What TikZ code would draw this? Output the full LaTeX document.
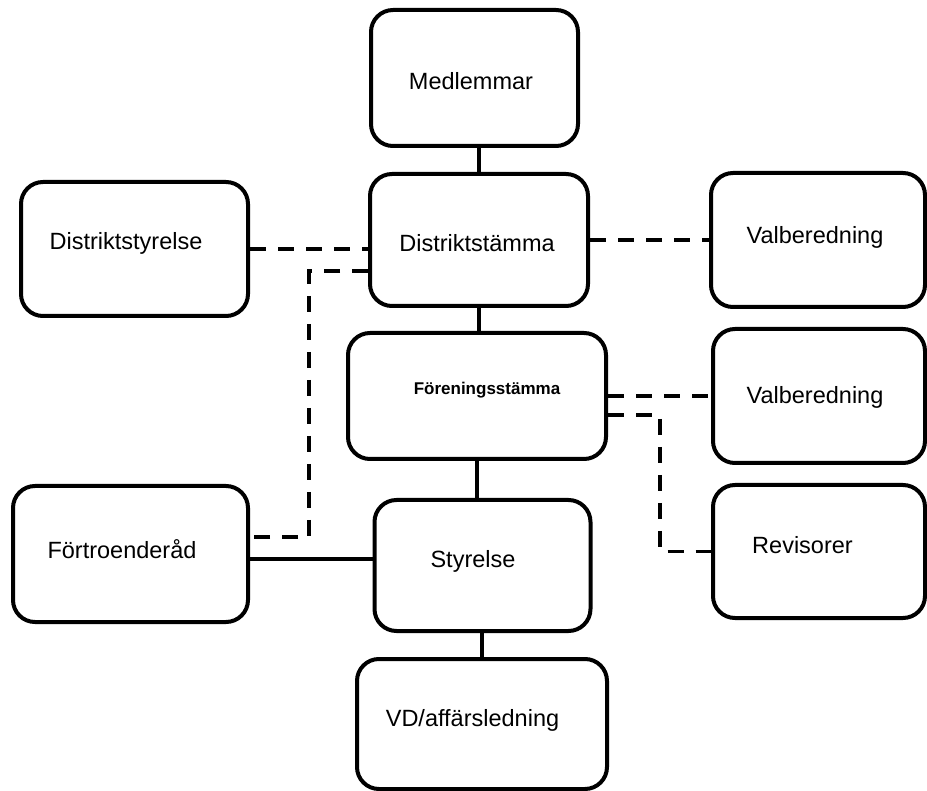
\documentclass[tikz,border=0pt]{standalone}
\usepackage{fontspec}
\setmainfont{Liberation Sans}
\begin{document}
\begin{tikzpicture}[x=1pt,y=-1pt,
  orgbox/.style={draw=black, line width=4pt, rounded corners=22pt,
    rectangle, inner sep=0pt, fill=white},
  boxtext/.style={font=\fontsize{23.5}{28}\selectfont, inner sep=0pt, anchor=center},
  boldtext/.style={font=\fontsize{17}{20}\selectfont\bfseries, inner sep=0pt, anchor=center},
  solidline/.style={line width=3.6pt},
  dashline/.style={line width=3.6pt, dash pattern=on 16pt off 12pt}]
\useasboundingbox (0,0) rectangle (927,791);

% boxes: centre, width, height
\node[orgbox, minimum width=207pt, minimum height=136pt] (med) at (474.5,78) {};
\node[orgbox, minimum width=218pt, minimum height=132pt] (dst) at (479,240) {};
\node[orgbox, minimum width=227pt, minimum height=134pt] (dsy) at (134.5,249) {};
\node[orgbox, minimum width=214pt, minimum height=134pt] (vb1) at (818,240) {};
\node[orgbox, minimum width=258pt, minimum height=126pt] (fs) at (477,396) {};
\node[orgbox, minimum width=212pt, minimum height=134pt] (vb2) at (819,396) {};
\node[orgbox, minimum width=235pt, minimum height=136pt] (ftr) at (130.5,554) {};
\node[orgbox, minimum width=216pt, minimum height=131pt] (sty) at (482.5,565.5) {};
\node[orgbox, minimum width=212pt, minimum height=133pt] (rev) at (819,551.5) {};
\node[orgbox, minimum width=250pt, minimum height=130pt] (vd) at (482,724) {};

% labels
\node[boxtext] (med-t) at (471,81) {Medlemmar};
\node[boxtext] (dst-t) at (477,243) {Distriktstämma};
\node[boxtext] (dsy-t) at (126,243) {Distriktstyrelse};
\node[boxtext] (vb1-t) at (815,237) {Valberedning};
\node[boldtext] (fs-t) at (487,390) {Föreningsstämma};
\node[boxtext] (vb2-t) at (815,397) {Valberedning};
\node[boxtext] (ftr-t) at (122,549) {Förtroenderåd};
\node[boxtext] (sty-t) at (473,561) {Styrelse};
\node[boxtext] (rev-t) at (802.5,545) {Revisorer};
\node[boxtext] (vd-t) at (472.5,720) {VD/affärsledning};

% bend points of the dashed links
\coordinate (bendA) at (309,271);
\coordinate (bendB) at (309,537);
\coordinate (bendC) at (660,415);

% main chain
\draw[solidline] (dst.north) -- (dst.north |- med.south);
\draw[solidline] (dst.south) -- (dst.south |- fs.north);
\draw[solidline] (fs.south) -- (fs.south |- sty.north);
\draw[solidline] (vd.north) -- (vd.north |- sty.south);
\draw[solidline] ([yshift=-5pt]ftr.east) -- ([yshift=-5pt]ftr.east -| sty.west);

% dashed links
\draw[dashline] (dsy.east) -- (dsy.east -| dst.west);
\draw[dashline] (dst.east) -- (vb1.west);
\draw[dashline] ([yshift=-31pt]dst.west) -- (bendA) -- (bendB) -- (bendB -| ftr.east);
\draw[dashline] (fs.east) -- (vb2.west);
\draw[dashline] ([yshift=-19pt]fs.east) -- (bendC) |- (rev.west);
\end{tikzpicture}
\end{document}
